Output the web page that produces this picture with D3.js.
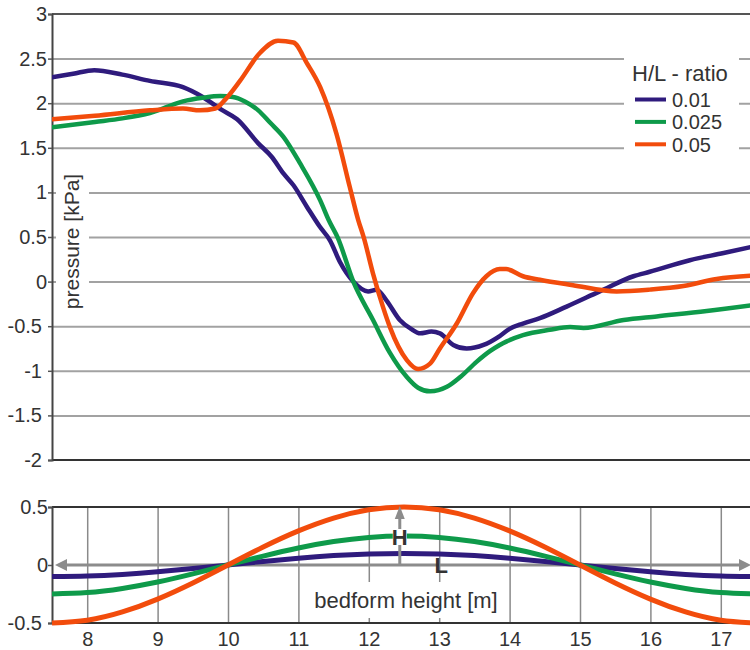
<!DOCTYPE html>
<html>
<head>
<meta charset="utf-8">
<script src="https://cdn.jsdelivr.net/npm/d3@7"></script>
<style>
  body { margin: 0; background: #fff; }
  svg { display: block; }
  text { font-family: "Liberation Sans", Arial, Helvetica, sans-serif; fill: #333; }
</style>
</head>
<body>
<svg id="chart" width="750" height="650"></svg>
<script>
// H/L ratios shown in the legend and their line colours
const ratios = ["0.01", "0.025", "0.05"];
const colors = ["#2f1b7d", "#0e9a4a", "#f24c0c"];

// Pressure along the bedform [kPa], as [distance m, pressure kPa]
const pressure001 = [
  [7.5, 2.29], [7.8, 2.33], [8.1, 2.37], [8.5, 2.32], [8.89, 2.25], [9.36, 2.18],
  [9.64, 2.07], [9.9, 1.93], [10.13, 1.82], [10.43, 1.55], [10.62, 1.40], [10.79, 1.21],
  [10.93, 1.08], [11.12, 0.84], [11.3, 0.62], [11.45, 0.46], [11.59, 0.22], [11.78, 0.0],
  [11.99, -0.11], [12.11, -0.09], [12.25, -0.21], [12.44, -0.43], [12.6, -0.53],
  [12.73, -0.58], [12.89, -0.56], [13.01, -0.58], [13.2, -0.71], [13.39, -0.75],
  [13.63, -0.71], [13.86, -0.61], [14.0, -0.53], [14.19, -0.47], [14.43, -0.41],
  [14.81, -0.28], [15.28, -0.11], [15.76, 0.06], [15.99, 0.11], [16.56, 0.24],
  [17.04, 0.32], [17.5, 0.40]
];
const pressure0025 = [
  [7.5, 1.73], [8.11, 1.79], [8.5, 1.83], [8.89, 1.89], [9.36, 2.02], [9.64, 2.06],
  [9.89, 2.08], [10.07, 2.07], [10.24, 2.02], [10.43, 1.92], [10.6, 1.78], [10.79, 1.62],
  [11.02, 1.33], [11.31, 0.91], [11.43, 0.69], [11.56, 0.49], [11.78, 0.0], [12.06, -0.43],
  [12.3, -0.80], [12.54, -1.07], [12.7, -1.19], [12.87, -1.23], [13.11, -1.18],
  [13.3, -1.07], [13.53, -0.90], [13.72, -0.78], [13.86, -0.71], [13.96, -0.67],
  [14.19, -0.60], [14.57, -0.54], [14.86, -0.51], [15.05, -0.52], [15.62, -0.43],
  [16.09, -0.39], [16.8, -0.33], [17.5, -0.26]
];
const pressure005 = [
  [7.5, 1.82], [8.11, 1.86], [8.89, 1.92], [9.36, 1.94], [9.6, 1.92], [9.82, 1.94],
  [9.96, 2.04], [10.17, 2.25], [10.45, 2.56], [10.71, 2.70], [10.93, 2.68], [11.12, 2.45],
  [11.31, 2.18], [11.54, 1.66], [11.73, 1.06], [11.85, 0.69], [11.93, 0.49], [12.06, 0.09],
  [12.2, -0.28], [12.3, -0.51], [12.54, -0.88], [12.7, -0.98], [12.87, -0.92],
  [13.01, -0.75], [13.25, -0.47], [13.48, -0.13], [13.67, 0.06], [13.86, 0.14],
  [13.95, 0.14], [14.19, 0.06], [14.43, 0.02], [14.9, -0.04], [15.52, -0.11],
  [15.99, -0.09], [16.47, -0.05], [16.94, 0.03], [17.5, 0.07]
];

// Bedform profile [m], sampled every 0.5 m
const bedformX = [7.5, 8, 8.5, 9, 9.5, 10, 10.5, 11, 11.5, 12, 12.5, 13, 13.5, 14, 14.5, 15, 15.5, 16, 16.5, 17, 17.5];
const bedform001 = [-0.1, -0.095, -0.081, -0.059, -0.031, 0, 0.031, 0.059, 0.081, 0.095, 0.1, 0.095, 0.081, 0.059, 0.031, 0, -0.031, -0.059, -0.081, -0.095, -0.1];
const bedform0025 = [-0.25, -0.238, -0.202, -0.147, -0.077, 0, 0.077, 0.147, 0.202, 0.238, 0.25, 0.238, 0.202, 0.147, 0.077, 0, -0.077, -0.147, -0.202, -0.238, -0.25];
const bedform005 = [-0.5, -0.476, -0.405, -0.294, -0.155, 0, 0.155, 0.294, 0.405, 0.476, 0.5, 0.476, 0.405, 0.294, 0.155, 0, -0.155, -0.294, -0.405, -0.476, -0.5];

// Axis ticks
const pressureTicks = [3, 2.5, 2, 1.5, 1, 0.5, 0, -0.5, -1, -1.5, -2];
const heightTicks = [0.5, 0, -0.5];
const distanceTicks = [8, 9, 10, 11, 12, 13, 14, 15, 16, 17];

const svg = d3.select("#chart");
svg.append("rect").attr("width", 750).attr("height", 650).attr("fill", "#fff");

const x = d3.scaleLinear().domain([7.5, 17.5]).range([52, 756]);
const yP = d3.scaleLinear().domain([-2, 3]).range([460, 14]);
const yB = d3.scaleLinear().domain([-0.5, 0.5]).range([623, 507]);
const left = x.range()[0], right = 750;

const labelFmt = d => String(d);

// ---------- pressure panel ----------
const topPanel = svg.append("g");

// horizontal grid
topPanel.append("g")
  .attr("transform", `translate(${left},0)`)
  .call(d3.axisLeft(yP).tickValues(pressureTicks.filter(d => d > -2 && d < 3))
    .tickSize(-(right - left)).tickFormat(""))
  .call(g => g.select(".domain").remove())
  .call(g => g.selectAll("line").attr("stroke", "#a2a2a2").attr("stroke-width", 2));

// white patches behind the axis title and legend
topPanel.append("rect").attr("x", 56).attr("y", 163).attr("width", 33).attr("height", 156).attr("fill", "#fff");
topPanel.append("rect").attr("x", 624).attr("y", 50).attr("width", 115).attr("height", 106).attr("fill", "#fff");

// frame
topPanel.append("line").attr("x1", left).attr("x2", right).attr("y1", yP(3)).attr("y2", yP(3))
  .attr("stroke", "#555").attr("stroke-width", 2);
topPanel.append("line").attr("x1", left).attr("x2", right).attr("y1", yP(-2)).attr("y2", yP(-2))
  .attr("stroke", "#333").attr("stroke-width", 2);

// y axis with labels
const yAxisP = topPanel.append("g")
  .attr("transform", `translate(${left},0)`)
  .call(d3.axisLeft(yP).tickValues(pressureTicks).tickSize(4).tickPadding(5).tickFormat(labelFmt));
yAxisP.select(".domain").attr("stroke", "#444").attr("stroke-width", 2);
yAxisP.selectAll(".tick line").attr("stroke", "#555").attr("stroke-width", 1.5);
yAxisP.selectAll(".tick text")
  .attr("x", d => d < 0 ? -10 : -5)
  .style("font-size", "20px").attr("fill", "#333");

// axis title
topPanel.append("text")
  .attr("transform", `translate(79,${(170 + 313) / 2}) rotate(-90)`)
  .attr("text-anchor", "middle")
  .style("font-size", "21px")
  .text("pressure [kPa]");

// pressure curves
const lineP = d3.line().x(d => x(d[0])).y(d => yP(d[1])).curve(d3.curveMonotoneX);
const pressureSeries = [pressure001, pressure0025, pressure005];
svg.append("clipPath").attr("id", "clipTop")
  .append("rect").attr("x", left).attr("y", 0).attr("width", right - left).attr("height", 470);
topPanel.append("g").attr("clip-path", "url(#clipTop)")
  .selectAll("path").data(pressureSeries).join("path")
  .attr("d", lineP)
  .attr("fill", "none")
  .attr("stroke", (d, i) => colors[i])
  .attr("stroke-width", 4.5)
  .attr("stroke-linejoin", "round")
  .attr("stroke-linecap", "round");

// legend
const legend = topPanel.append("g");
legend.append("text").attr("x", 632).attr("y", 81).style("font-size", "22px").text("H/L - ratio");
const legendRows = legend.selectAll("g.row").data(ratios).join("g")
  .attr("class", "row")
  .attr("transform", (d, i) => `translate(0,${99.5 + i * 22.4})`);
legendRows.append("line").attr("x1", 635).attr("x2", 666).attr("y1", 0).attr("y2", 0)
  .attr("stroke", (d, i) => colors[i]).attr("stroke-width", 4);
legendRows.append("text").attr("x", 672).attr("y", 7.5).style("font-size", "20px").text(d => d);

// ---------- bedform panel ----------
const botPanel = svg.append("g");

// vertical grid
botPanel.append("g")
  .attr("transform", `translate(0,${yB(-0.5)})`)
  .call(d3.axisBottom(x).tickValues(distanceTicks).tickSize(-(yB(-0.5) - yB(0.5))).tickFormat(""))
  .call(g => g.select(".domain").remove())
  .call(g => g.selectAll("line").attr("stroke", "#8a8a8a").attr("stroke-width", 1.5));

// white patch behind the axis title
botPanel.append("rect").attr("x", 305).attr("y", 582).attr("width", 201).attr("height", 36).attr("fill", "#fff");

// frame
botPanel.append("line").attr("x1", left).attr("x2", right).attr("y1", yB(0.5)).attr("y2", yB(0.5))
  .attr("stroke", "#333").attr("stroke-width", 2);
botPanel.append("line").attr("x1", left).attr("x2", right).attr("y1", yB(-0.5)).attr("y2", yB(-0.5))
  .attr("stroke", "#333").attr("stroke-width", 2);

const yAxisB = botPanel.append("g")
  .attr("transform", `translate(${left},0)`)
  .call(d3.axisLeft(yB).tickValues(heightTicks).tickSize(4).tickPadding(5).tickFormat(labelFmt));
yAxisB.select(".domain").attr("stroke", "#444").attr("stroke-width", 2);
yAxisB.selectAll(".tick line").attr("stroke", "#555").attr("stroke-width", 1.5);
yAxisB.selectAll(".tick text")
  .attr("x", d => d < 0 ? -10 : -4)
  .style("font-size", "20px").attr("fill", "#333");

const xAxisB = botPanel.append("g")
  .attr("transform", `translate(0,${yB(-0.5)})`)
  .call(d3.axisBottom(x).tickValues(distanceTicks).tickSize(0).tickPadding(9).tickFormat(labelFmt));
xAxisB.select(".domain").remove();
xAxisB.selectAll(".tick text").style("font-size", "20px").attr("fill", "#333");

// axis title
botPanel.append("text").attr("x", 406).attr("y", 608).attr("text-anchor", "middle")
  .style("font-size", "22px").text("bedform height [m]");

// bedform curves
const lineB = d3.line().x(d => x(d[0])).y(d => yB(d[1])).curve(d3.curveNatural);
const bedformSeries = [bedform001, bedform0025, bedform005].map(s => s.map((v, i) => [bedformX[i], v]));

// zero line with arrows at both ends (wavelength L)
const arrowGrey = "#8c8c8c";
const y0 = yB(0);
botPanel.append("line").attr("x1", left + 12).attr("x2", right - 8).attr("y1", y0).attr("y2", y0)
  .attr("stroke", arrowGrey).attr("stroke-width", 3);
botPanel.append("path").attr("d", `M${left + 3},${y0} L${left + 15},${y0 - 6} L${left + 15},${y0 + 6} Z`).attr("fill", arrowGrey);
botPanel.append("path").attr("d", `M${right + 1},${y0} L${right - 11},${y0 - 6} L${right - 11},${y0 + 6} Z`).attr("fill", arrowGrey);

svg.append("clipPath").attr("id", "clipBot")
  .append("rect").attr("x", left).attr("y", 495).attr("width", right - left).attr("height", 140);
botPanel.append("g").attr("clip-path", "url(#clipBot)")
  .selectAll("path").data(bedformSeries).join("path")
  .attr("d", lineB)
  .attr("fill", "none")
  .attr("stroke", (d, i) => colors[i])
  .attr("stroke-width", 5)
  .attr("stroke-linecap", "butt");

// height arrow (H)
const xH = x(12.44);
botPanel.append("line").attr("x1", xH).attr("x2", xH).attr("y1", y0).attr("y2", yB(0.5) + 12)
  .attr("stroke", arrowGrey).attr("stroke-width", 3);
botPanel.append("path").attr("d", `M${xH},${yB(0.5) - 1} L${xH - 5},${yB(0.5) + 12} L${xH + 5},${yB(0.5) + 12} Z`).attr("fill", arrowGrey);
botPanel.append("rect").attr("x", xH - 7).attr("y", 529).attr("width", 14).attr("height", 16).attr("fill", "#fff");
botPanel.append("text").attr("x", xH).attr("y", 545).attr("text-anchor", "middle")
  .style("font-size", "22px").style("font-weight", "bold").attr("fill", "#3a3a3a").text("H");
botPanel.append("text").attr("x", x(13) + 2).attr("y", 573).attr("text-anchor", "middle")
  .style("font-size", "22px").style("font-weight", "bold").attr("fill", "#3a3a3a").text("L");
</script>
</body>
</html>
